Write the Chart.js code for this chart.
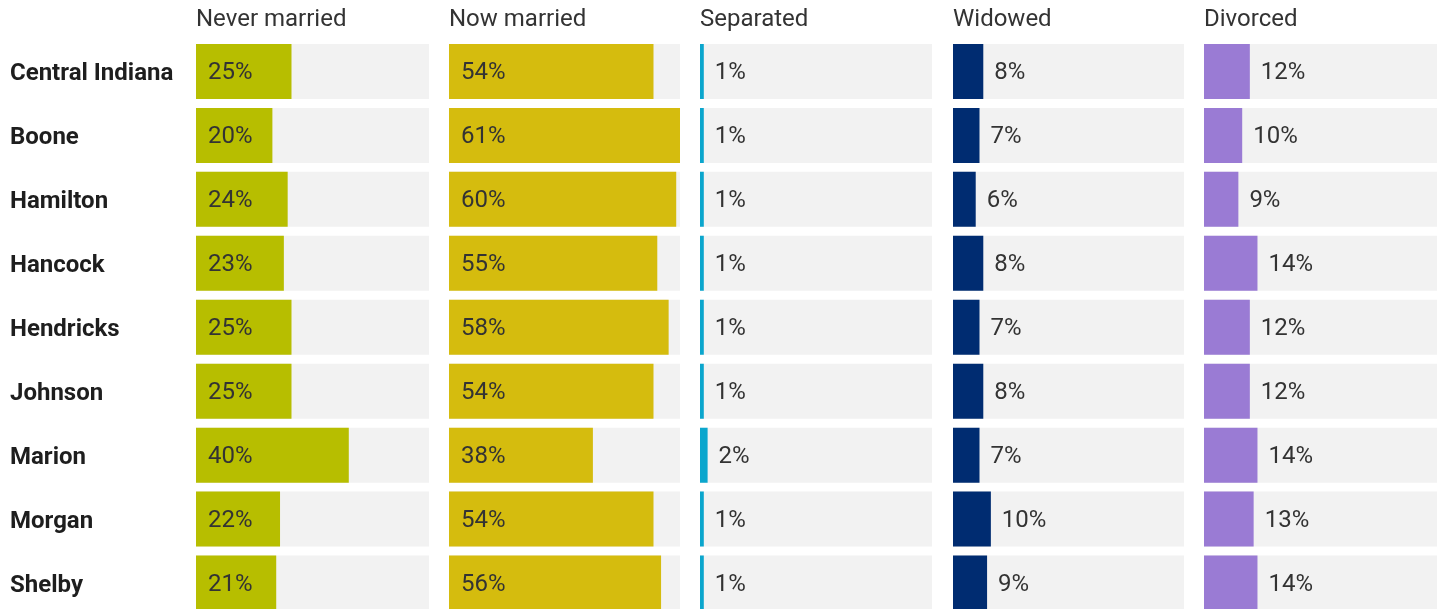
<!DOCTYPE html>
<html>
<head>
<meta charset="utf-8">
<script src="https://cdn.jsdelivr.net/npm/chart.js@4.4.1/dist/chart.umd.min.js"></script>
<style>
  html, body { margin: 0; padding: 0; background: #fff; }
  body { width: 1440px; height: 609px; overflow: hidden; position: relative; }
  .col { position: absolute; top: 0; height: 615px; }
</style>
</head>
<body>
<div class="col" style="left:0;width:429px"><canvas id="col-0"></canvas></div>
<div class="col" style="left:449px;width:231px"><canvas id="col-1"></canvas></div>
<div class="col" style="left:700px;width:232px"><canvas id="col-2"></canvas></div>
<div class="col" style="left:953px;width:231px"><canvas id="col-3"></canvas></div>
<div class="col" style="left:1204px;width:233px"><canvas id="col-4"></canvas></div>

<script>
const counties = ['Central Indiana', 'Boone', 'Hamilton', 'Hancock', 'Hendricks', 'Johnson', 'Marion', 'Morgan', 'Shelby'];
const statuses = ['Never married', 'Now married', 'Separated', 'Widowed', 'Divorced'];

const neverMarried = [25, 20, 24, 23, 25, 25, 40, 22, 21];
const nowMarried = [54, 61, 60, 55, 58, 54, 38, 54, 56];
const separated = [1, 1, 1, 1, 1, 1, 2, 1, 1];
const widowed = [8, 7, 6, 8, 7, 8, 7, 10, 9];
const divorced = [12, 10, 9, 14, 12, 12, 14, 13, 14];

const colors = ['#b7be00', '#d5bc0e', '#0ba6cd', '#002c71', '#9a7bd4'];

(function() {
  const series = [neverMarried, nowMarried, separated, widowed, divorced];
  // every column shares one scale, topped by the largest value
  const xMax = Math.max(...series.flat());
  const track = counties.map(() => xMax);

  const valueFont = '24px Roboto';

  // percentage labels: inside the bar if it fits, otherwise just past its end
  const valueLabels = {
    id: 'valueLabels',
    afterDatasetsDraw(chart) {
      const ctx = chart.ctx;
      const meta = chart.getDatasetMeta(0);
      const data = chart.data.datasets[0].data;
      ctx.save();
      ctx.font = valueFont;
      ctx.fillStyle = '#333';
      ctx.textBaseline = 'middle';
      ctx.textAlign = 'left';
      meta.data.forEach((bar, i) => {
        const text = data[i] + '%';
        const w = ctx.measureText(text).width;
        const len = bar.x - bar.base;
        let x = (len > w + 24) ? bar.base + 12 : bar.x + 11;
        ctx.fillText(text, x, bar.y + 1.5);
      });
      ctx.restore();
    }
  };

  series.forEach((values, c) => {
    let el = document.getElementById('col-' + c).getContext('2d');
    let yAxis = { display: false };
    if (c === 0) {
      // county names down the left of the first column only
      yAxis = {
        grid: { display: false },
        border: { display: false },
        ticks: {
          crossAlign: 'far',
          labelOffset: 3,
          color: '#1e1e1e',
          font: { family: 'Roboto', size: 24, weight: 'bold' }
        },
        afterFit: (scale) => {
          scale.width = 186;
          scale.paddingTop = 0;
          scale.paddingBottom = 0;
        }
      };
    }
    new Chart(el, {
      type: 'bar',
      data: {
        labels: counties,
        datasets: [
          {
            data: values,
            backgroundColor: colors[c],
            barPercentage: 0.86,
            categoryPercentage: 1,
            grouped: false
          },
          {
            data: track,
            backgroundColor: '#f2f2f2',
            barPercentage: 0.86,
            categoryPercentage: 1,
            grouped: false
          }
        ]
      },
      options: {
        indexAxis: 'y',
        responsive: true,
        maintainAspectRatio: false,
        animation: false,
        layout: { padding: { left: c === 0 ? 10 : 0 } },
        scales: {
          x: { display: false, min: 0, max: xMax },
          y: yAxis
        },
        plugins: {
          legend: { display: false },
          tooltip: { enabled: false },
          title: {
            display: true,
            text: statuses[c],
            align: 'start',
            fullSize: false,
            color: '#333',
            font: { family: 'Roboto', size: 24, weight: 'normal' },
            padding: { top: 6, bottom: 4.7 }
          }
        }
      },
      plugins: [valueLabels]
    });
  });
})();
</script>
</body>
</html>
